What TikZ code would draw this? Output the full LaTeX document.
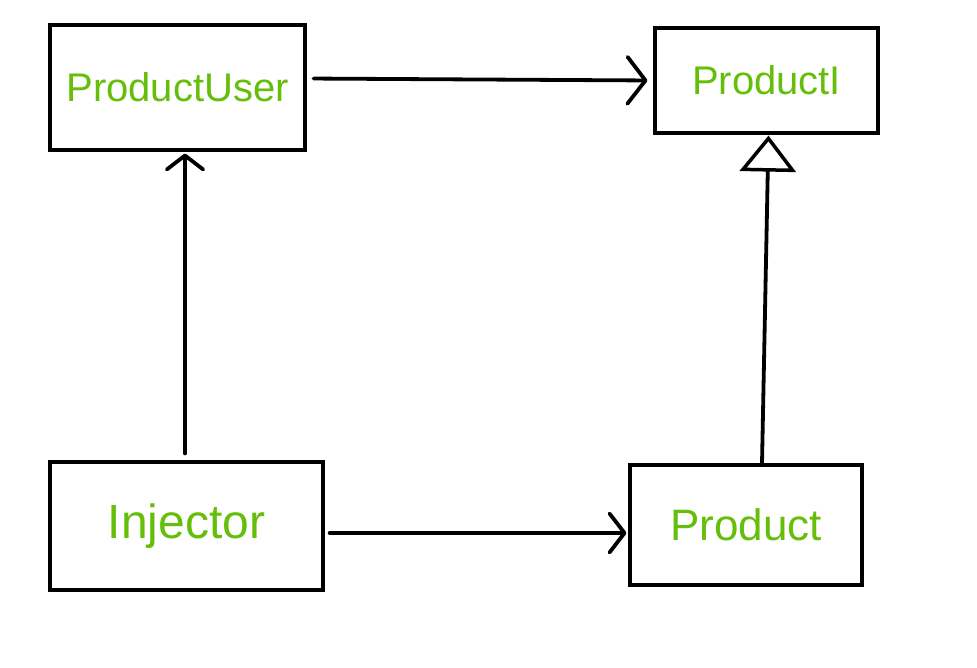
\documentclass[tikz,border=0pt]{standalone}
\usepackage{fontspec}
\setmainfont{Liberation Sans}
\usetikzlibrary{arrows.meta}
\definecolor{namegreen}{RGB}{100,190,10}

\begin{document}
\begin{tikzpicture}[x=1pt,y=-1pt,
    box/.style={draw, line width=3.2pt, text=namegreen, font=\fontsize{40}{46}\selectfont},
    link/.style={line width=3.8pt, line cap=round},
    barb/.style={-{Straight Barb[length=#1, width=2.6*#1, round]}}]
    \useasboundingbox (0,0) rectangle (977,667);

    % Draw the four classes
    \node[box, minimum width=255pt, minimum height=125pt] (user) at (177.5,87.5) {ProductUser};
    \node[box, minimum width=223pt, minimum height=105pt] (iface) at (766.5,80.5) {ProductI};
    \node[box, minimum width=273pt, minimum height=128pt, font=\fontsize{48}{54}\selectfont] (inj) at (186.5,526) {Injector};
    \node[box, minimum width=232pt, minimum height=120pt, font=\fontsize{44}{50}\selectfont] (prod) at (746,525) {Product};

    % Draw the usage arrows
    \draw[link, barb=18pt, shorten <=7pt, shorten >=6pt] ([yshift=9pt]user.east) -- (iface.west);
    \draw[link, barb=15pt, shorten <=5pt, shorten >=2pt] ([yshift=-7pt]inj.east) -- ([yshift=-8pt]prod.west);
    \draw[link, barb=14pt, shorten <=7pt, shorten >=2pt] ([xshift=-1.5pt]inj.north) -- ([xshift=7.5pt]user.south);

    % Draw the realization arrow
    \draw[link, -{Triangle[open,length=36pt,width=56pt,line width=3.5pt]}, shorten >=1pt] ([xshift=16pt]prod.north) -- ([xshift=2pt]iface.south);
\end{tikzpicture}
\end{document}
